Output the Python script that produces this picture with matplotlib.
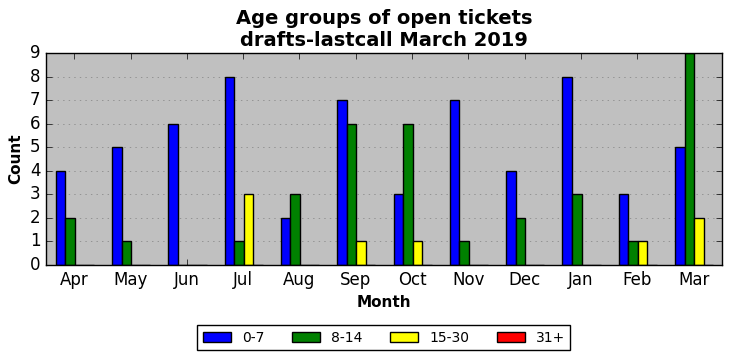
import matplotlib
matplotlib.use('Agg')
import matplotlib.pyplot as plt
import numpy as np

plt.style.use('classic')

months = ['Apr', 'May', 'Jun', 'Jul', 'Aug', 'Sep', 'Oct', 'Nov', 'Dec', 'Jan', 'Feb', 'Mar']
age_0_7 = [4, 5, 6, 8, 2, 7, 3, 7, 4, 8, 3, 5]
age_8_14 = [2, 1, 0, 1, 3, 6, 6, 1, 2, 3, 1, 9]
age_15_30 = [0, 0, 0, 3, 0, 1, 1, 0, 0, 0, 1, 2]
age_31 = [0, 0, 0, 0, 0, 0, 0, 0, 0, 0, 0, 0]

series = [(age_0_7, '0-7', 'blue'), (age_8_14, '8-14', 'green'),
          (age_15_30, '15-30', 'yellow'), (age_31, '31+', 'red')]

fig = plt.figure(figsize=(7.32, 3.61), dpi=100)
ax = fig.add_axes([0.063, 0.266, 0.923, 0.587])
ax.set_facecolor('#c0c0c0')

x = np.arange(len(months))
w = 0.17
for i, (vals, lab, col) in enumerate(series):
    ax.bar(x + (i - 2) * w + 0.01, vals, w, align='edge', color=col, edgecolor='black', label=lab)

ax.set_xlim(-0.5, len(months) - 0.5)
ax.set_ylim(0, 9)
ax.set_xticks(x)
ax.set_xticklabels(months, fontsize=12)
ax.set_yticks(range(10))
ax.tick_params(axis='y', labelsize=12)
ax.yaxis.grid(True, linestyle=':', color='gray')
ax.set_axisbelow(True)
ax.set_xlabel('Month', fontsize=11, fontweight='bold')
ax.set_ylabel('Count', fontsize=11, fontweight='bold')
ax.set_title('Age groups of open tickets\ndrafts-lastcall March 2019', fontsize=14, fontweight='bold')
ax.legend(loc='center', bbox_to_anchor=(0.5, -0.344), ncol=4, fontsize=10)

plt.savefig('out.png', dpi=100)
